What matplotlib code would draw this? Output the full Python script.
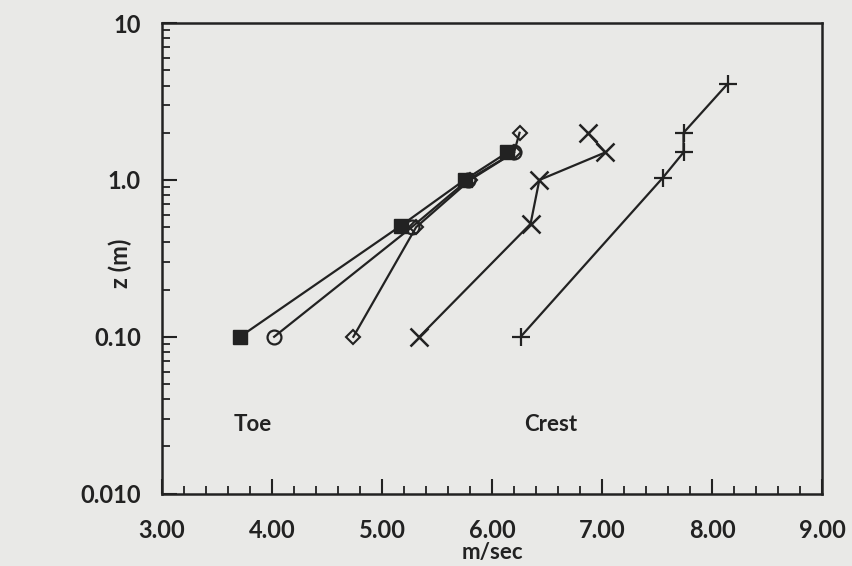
import matplotlib
matplotlib.use("Agg")
import matplotlib.pyplot as plt
from matplotlib.ticker import FixedLocator, LogLocator, NullFormatter, FixedFormatter, MultipleLocator

# Data (velocity m/sec vs height z m)
sq_x = [3.71, 5.17, 5.75, 6.14]
sq_z = [0.10, 0.51, 1.0, 1.5]
ci_x = [4.02, 5.27, 5.78, 6.20]
ci_z = [0.10, 0.50, 1.0, 1.5]
di_x = [4.74, 5.31, 5.80, 6.20, 6.25]
di_z = [0.10, 0.50, 1.0, 1.5, 2.0]
xx_x = [5.34, 6.35, 6.43, 7.03, 6.87]
xx_z = [0.10, 0.525, 1.0, 1.5, 2.0]
pl_x = [6.26, 7.55, 7.74, 7.74, 8.14]
pl_z = [0.10, 1.03, 1.5, 2.0, 4.1]

x_ticks = [3, 4, 5, 6, 7, 8, 9]
x_labels = ["3.00", "4.00", "5.00", "6.00", "7.00", "8.00", "9.00"]
y_ticks = [0.01, 0.1, 1.0, 10]
y_labels = ["0.010", "0.10", "1.0", "10"]

plt.rcParams['font.family'] = ['Lato', 'DejaVu Sans']
bg = '#e9e9e7'
ink = '#222222'
fig = plt.figure(figsize=(8.52, 5.66), dpi=100, facecolor=bg)
ax = fig.add_axes([0.190, 0.128, 0.775, 0.831], facecolor=bg)

lw = 1.6
ax.plot(sq_x, sq_z, color=ink, lw=lw, marker='s', ms=10, mfc=ink, mec=ink)
ax.plot(ci_x, ci_z, color=ink, lw=lw, marker='o', ms=10, mfc='none', mec=ink, mew=1.6)
ax.plot(di_x, di_z, color=ink, lw=lw, marker='D', ms=7, mfc='none', mec=ink, mew=1.5)
ax.plot(xx_x, xx_z, color=ink, lw=lw, marker='x', ms=13, mec=ink, mew=1.8)
ax.plot(pl_x, pl_z, color=ink, lw=lw, marker='+', ms=13, mec=ink, mew=1.6)

ax.set_yscale('log')
ax.set_xlim(3, 9)
ax.set_ylim(0.01, 10)
ax.xaxis.set_major_locator(FixedLocator(x_ticks))
ax.xaxis.set_major_formatter(FixedFormatter(x_labels))
ax.xaxis.set_minor_locator(MultipleLocator(0.2))
ax.yaxis.set_major_locator(FixedLocator(y_ticks))
ax.yaxis.set_major_formatter(FixedFormatter(y_labels))
ax.yaxis.set_minor_locator(LogLocator(base=10, subs=range(2, 10)))
ax.yaxis.set_minor_formatter(NullFormatter())

ax.tick_params(which='major', direction='in', length=11, width=1.5, color=ink,
               labelsize=17, top=False, right=False)
ax.tick_params(which='minor', direction='in', length=6, width=1.3, color=ink,
               top=False, right=False)
ax.tick_params(axis='x', which='major', pad=18)
ax.tick_params(axis='y', which='major', pad=15)
for lab in ax.get_xticklabels() + ax.get_yticklabels():
    lab.set_fontweight('bold')
    lab.set_color(ink)
for s in ax.spines.values():
    s.set_linewidth(1.8)
    s.set_color(ink)

ax.set_xlabel('m/sec', fontsize=16, fontweight='bold', color=ink)
ax.set_ylabel('z (m)', fontsize=17, fontweight='bold', color=ink)
ax.xaxis.set_label_coords(0.5, -0.103)
ax.yaxis.set_label_coords(-0.063, 0.49)
ax.yaxis.label.set_va('center')

ax.text(3.65, 0.0275, 'Toe', fontsize=16, fontweight='bold', color=ink, va='center', ha='left')
ax.text(6.29, 0.0275, 'Crest', fontsize=16, fontweight='bold', color=ink, va='center', ha='left')

fig.savefig('out.png', dpi=100, facecolor=bg)
